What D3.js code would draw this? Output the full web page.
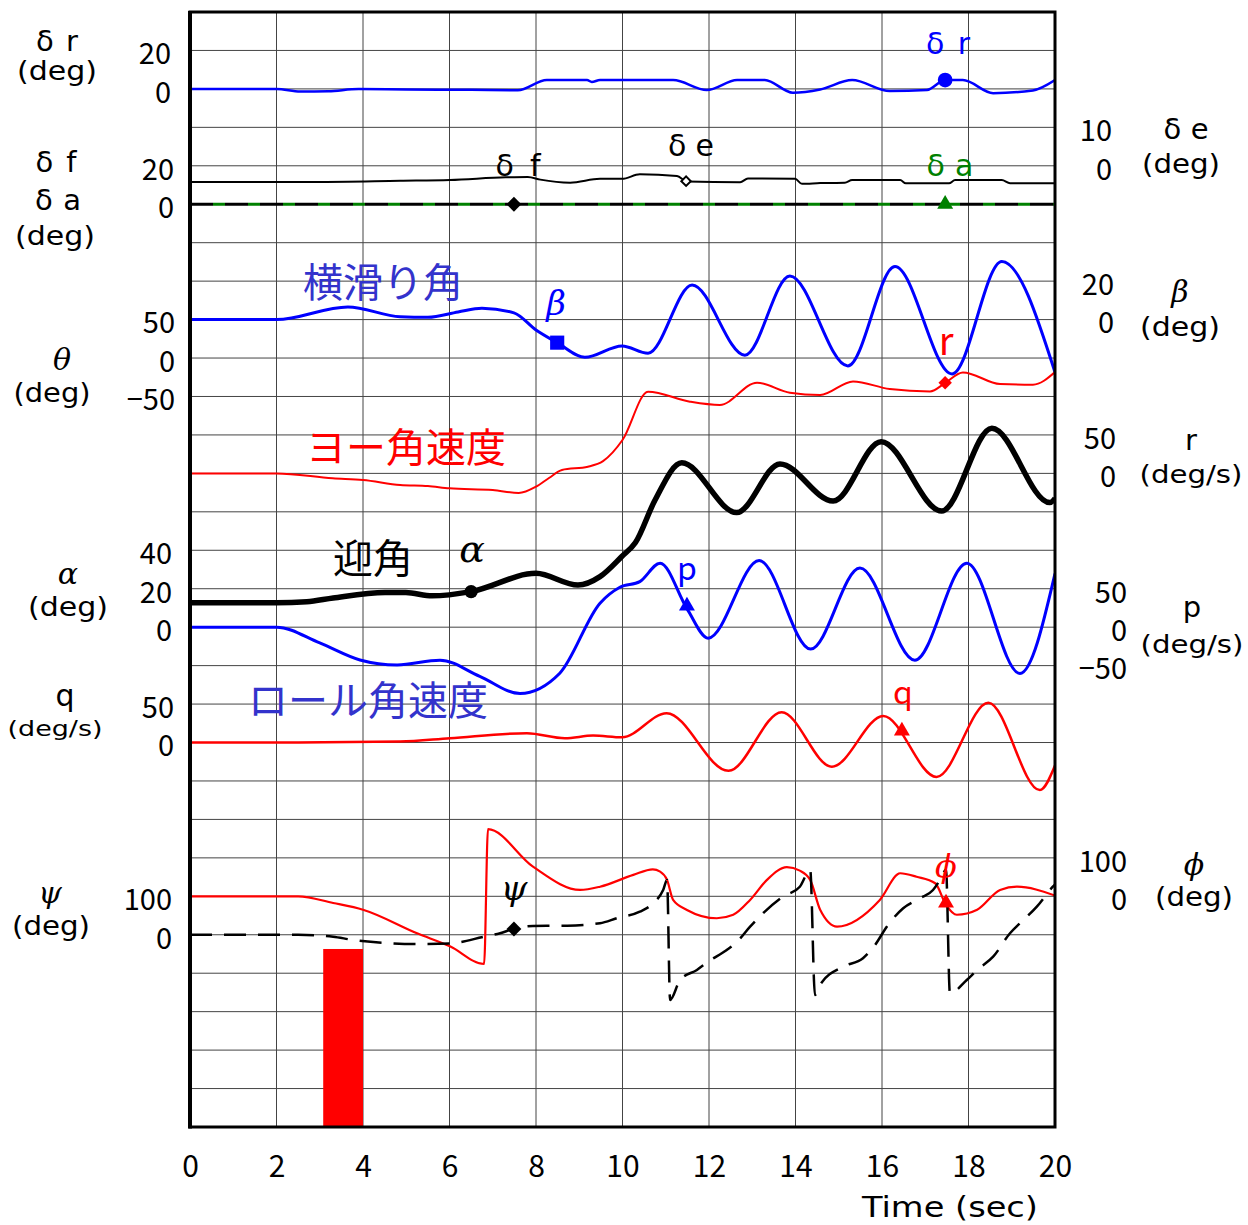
<!DOCTYPE html>
<html>
<head>
<meta charset="utf-8">
<script src="https://cdn.jsdelivr.net/npm/d3@7/dist/d3.min.js"></script>
<style>
  body { margin: 0; background: #fff; }
  text { font-family: "Noto Sans CJK JP", "Noto Sans", sans-serif; }
  .it { font-family: "DejaVu Serif", serif; font-style: italic; }
  .unit { font-family: "DejaVu Sans", sans-serif; }
</style>
</head>
<body>
<svg id="chart" width="1248" height="1225"></svg>
<script>
// time axis
const timeTicks = [0, 2, 4, 6, 8, 10, 12, 14, 16, 18, 20];

// control surfaces (deg) : [time, value]
const deltaR = [[0,0],[2,0],[2.55,-1.4],[3.2,-1.2],[3.9,-0.1],[5,-0.3],[6.5,-0.5],[7.58,-0.7],[8.25,4.6],[9.18,4.6],[9.29,3.6],[9.48,4.6],[11.17,4.6],[11.95,-0.6],[12.65,4.6],[13.29,4.6],[13.94,-2.0],[14.57,-0.3],[15.31,4.6],[16.18,-1.1],[17.04,-0.6],[17.46,4.6],[17.87,4.6],[18.57,-2.2],[19.49,-0.8],[20,4.6]];
const deltaE = [[0,-4.2],[2.9,-4.2],[4.86,-3.9],[6.01,-3.7],[7.3,-3.0],[7.81,-2.9],[8.1,-3.6],[8.79,-4.4],[9.48,-3.4],[9.99,-3.4],[10.4,-2.2],[11.26,-2.65],[11.49,-4.1],[12.72,-4.3],[12.9,-3.3],[13.99,-3.4],[14.15,-4.7],[14.57,-4.5],[15.14,-4.4],[15.31,-3.7],[16.42,-3.7],[16.55,-4.55],[17.55,-4.55],[17.69,-3.7],[18.77,-3.7],[18.96,-4.55],[20,-4.55]];
const deltaF = [[0,0],[20,0]];
const deltaA = [[0,0],[20,0]];

// sideslip beta (deg), yaw rate r (deg/s)
const beta = [[0,0],[2,0],[3.65,6.6],[4.86,1.5],[5.5,1.2],[6.2,4.0],[6.75,5.9],[7.49,3.5],[8.0,-5.4],[8.49,-12.0],[9.13,-19.6],[9.99,-13.7],[10.59,-17.5],[11.61,18.0],[12.83,-18.5],[13.87,22.7],[15.21,-24.1],[16.3,27.6],[17.62,-28.3],[18.77,30.2],[20,-27.4]];
const yawRate = [[0,0],[2,0],[3.3,-6.4],[4.0,-8.6],[4.86,-15],[5.5,-16.5],[6.0,-19.4],[7.0,-21.6],[7.6,-25.5],[8.0,-17.3],[8.3,-6],[8.6,4.4],[9.2,8.7],[9.55,16],[10.0,43.4],[10.59,106.2],[11.56,93.2],[12.25,88.9],[13.11,117.9],[13.87,104.9],[14.57,102],[15.33,119.6],[16.18,109.7],[17.11,106.6],[17.46,117.5],[17.87,131.3],[18.73,116.2],[19.49,115.3],[20,131.7]];

// angle of attack alpha (deg), roll rate p (deg/s), pitch rate q (deg/s)
const alpha = [[0,12.7],[2,12.7],[2.7,13.2],[3.31,15.2],[4.51,18.0],[4.99,18.0],[5.6,16.3],[6.5,18.5],[8.0,28.0],[8.97,21.9],[9.48,26.3],[9.99,36.9],[10.3,44],[10.75,66],[11.37,85.5],[12.64,59.6],[13.64,84.9],[14.87,65.6],[15.98,96.5],[17.38,60.4],[18.54,103.5],[19.88,64.8],[20,67]];
const rollRate = [[0,0],[2,0],[3.0,-20.5],[3.93,-42.6],[4.79,-49.2],[5.78,-42.9],[6.7,-64],[7.63,-86.3],[8.55,-59.9],[9.48,31.2],[9.94,51.9],[10.4,59.2],[10.87,83.2],[11.49,24.2],[11.98,-14.3],[13.16,86.6],[14.35,-28.5],[15.49,76.8],[16.76,-42.9],[17.96,83.2],[19.19,-60.2],[20,69.6]];
const pitchRate = [[0,0],[2.5,0],[4.86,1.2],[6.01,5.6],[7.79,12.1],[8.67,5.6],[9.32,9.0],[9.99,6.8],[11.02,38.1],[12.45,-36.8],[13.68,39.4],[14.84,-31.5],[16.03,34.6],[17.26,-44.7],[18.46,51.7],[19.65,-61.9],[20,-29.9]];

// bank phi (deg), heading psi (deg)
const phi = [[0,0],[2.5,0],[3.31,-17.4],[4.0,-35],[5.25,-96.3],[6.01,-130],[6.8,-176],[6.89,174.5],[7.93,77.2],[9.02,16.6],[9.48,25],[10.25,55.7],[10.7,70],[10.87,64.2],[11.03,42.7],[11.17,-9.4],[11.49,-35.4],[12.18,-57],[12.56,-48],[12.95,-9.4],[13.34,42.7],[13.8,75.7],[14.1,66.8],[14.34,42.7],[14.57,-35],[14.96,-78.8],[15.95,-9.4],[16.42,60],[16.8,51],[17.23,34],[17.48,-22],[17.73,-48],[18.2,-35],[18.73,16.6],[19.12,25],[20,2]];
const psi = [[0,0],[2.5,0],[3.31,-4.9],[3.77,-13.5],[5.25,-24],[6.01,-22.4],[6.8,-5],[7.17,4],[7.47,15],[7.93,23],[8.72,23.7],[9.48,30],[9.87,43],[10.4,60],[10.71,82],[10.94,116.5],[11.03,142.5],[11.1,-169.6],[11.33,-117.6],[11.72,-91.5],[11.98,-70],[12.41,-39.5],[12.65,-18],[12.95,21],[13.25,56],[13.71,99],[14.1,125],[14.34,168.5],[14.45,-156.6],[14.57,-130],[15.1,-83],[15.56,-61],[15.84,-26.5],[16.11,21],[16.49,69],[16.88,95],[17.18,116.5],[17.34,142.5],[17.48,168.5],[17.57,-152],[17.96,-117.6],[18.2,-91.5],[18.57,-57],[18.96,3.9],[19.19,30],[19.58,73],[19.95,125],[20,131]];

// red input pulse: time span (sec) and top on the psi scale (deg)
const pulseTime = [3.08, 4.0];
const pulseTop = [-37];

// tick labels for each scale
const ticksDr = [0, 20], ticksDf = [0, 20], ticksDe = [0, 10];
const ticksTheta = [-50, 0, 50], ticksBeta = [0, 20], ticksR = [0, 50];
const ticksAlpha = [0, 20, 40], ticksP = [-50, 0, 50], ticksQ = [0, 50];
const ticksPsi = [0, 100], ticksPhi = [0, 100];

// ---- layout ----
const plotLeft = 190, plotRight = 1055, plotTop = 12, plotBottom = 1127, nRows = 29;
const numFont = '"DejaVu Sans", sans-serif';
const svg = d3.select('#chart');

const x = d3.scaleLinear().domain([0, 20]).range([plotLeft, plotRight]);
const row = d3.scaleLinear().domain([0, nRows]).range([plotTop, plotBottom]);

// each trace has its own zero grid line and units per grid row
function rowScale(zeroRow, perRow) {
    return d3.scaleLinear().domain([0, perRow]).range([row(zeroRow), row(zeroRow - 1)]);
}
const yDr = rowScale(2, 20), yDf = rowScale(5, 20), yDe = rowScale(4, 10);
const yTheta = rowScale(9, 50), yBeta = rowScale(8, 20), yR = rowScale(12, 50);
const yAlpha = rowScale(16, 20), yP = rowScale(16, 50), yQ = rowScale(19, 50);
const yPsi = rowScale(24, 100), yPhi = rowScale(23, 100);

svg.append('defs').append('clipPath').attr('id', 'plotClip')
    .append('rect').attr('x', plotLeft).attr('y', plotTop)
    .attr('width', plotRight - plotLeft).attr('height', plotBottom - plotTop);

// grid
const grid = svg.append('g').attr('stroke', '#444').attr('stroke-width', 1);
grid.selectAll('line.h').data(d3.range(1, nRows)).join('line')
    .attr('x1', plotLeft).attr('x2', plotRight)
    .attr('y1', d => row(d)).attr('y2', d => row(d));
grid.selectAll('line.v').data(timeTicks.slice(1, -1)).join('line')
    .attr('x1', d => x(d)).attr('x2', d => x(d))
    .attr('y1', plotTop).attr('y2', plotBottom);

// input pulse
svg.append('rect')
    .attr('x', x(pulseTime[0])).attr('width', x(pulseTime[1]) - x(pulseTime[0]))
    .attr('y', yPsi(pulseTop[0])).attr('height', plotBottom - yPsi(pulseTop[0]))
    .attr('fill', '#ff0000');

// traces
const traces = [
    { data: deltaR, y: yDr, color: '#0000ff', width: 2.5 },
    { data: deltaE, y: yDe, color: '#000', width: 2 },
    { data: deltaF, y: yDf, color: '#000', width: 3, dash: '23,12' },
    { data: deltaA, y: yDf, color: '#008000', width: 3, dash: '12,23', offset: 12 },
    { data: beta, y: yBeta, color: '#0000ff', width: 3 },
    { data: yawRate, y: yR, color: '#ff0000', width: 2 },
    { data: alpha, y: yAlpha, color: '#000', width: 5.5 },
    { data: rollRate, y: yP, color: '#0000ff', width: 3 },
    { data: pitchRate, y: yQ, color: '#ff0000', width: 2.5 },
    { data: phi, y: yPhi, color: '#ff0000', width: 2.2 },
    { data: psi, y: yPsi, color: '#000', width: 2.5, dash: '22,12' }
];

const traceG = svg.append('g').attr('clip-path', 'url(#plotClip)');
traces.forEach(s => {
    const line = d3.line()
        .x(d => x(d[0]))
        .y(d => s.y(d[1]))
        .curve(d3.curveMonotoneX);
    traceG.append('path')
        .attr('d', line(s.data))
        .attr('fill', 'none')
        .attr('stroke', s.color)
        .attr('stroke-width', s.width)
        .attr('stroke-linejoin', 'round')
        .attr('stroke-dasharray', s.dash || null)
        .attr('stroke-dashoffset', s.offset || null);
});

// markers on the traces
const markers = [
    { t: 17.46, v: 4.6, y: yDr, type: d3.symbolCircle, size: 170, fill: '#0000ff' },
    { t: 7.49, v: 0, y: yDf, type: d3.symbolSquare, size: 110, fill: '#000', rot: 45 },
    { t: 11.47, v: -4.0, y: yDe, type: d3.symbolSquare, size: 45, fill: '#fff', stroke: '#000', rot: 45 },
    { t: 17.46, v: 0, y: yDf, type: d3.symbolTriangle, size: 110, fill: '#008000' },
    { t: 8.49, v: -12.0, y: yBeta, type: d3.symbolSquare, size: 200, fill: '#0000ff' },
    { t: 17.46, v: 117.9, y: yR, type: d3.symbolSquare, size: 90, fill: '#ff0000', rot: 45 },
    { t: 6.5, v: 18.5, y: yAlpha, type: d3.symbolCircle, size: 140, fill: '#000' },
    { t: 11.49, v: 27.6, y: yP, type: d3.symbolTriangle, size: 110, fill: '#0000ff' },
    { t: 16.46, v: 15.1, y: yQ, type: d3.symbolTriangle, size: 110, fill: '#ff0000' },
    { t: 17.48, v: -17.2, y: yPhi, type: d3.symbolTriangle, size: 110, fill: '#ff0000' },
    { t: 7.49, v: 15, y: yPsi, type: d3.symbolSquare, size: 110, fill: '#000', rot: 45 }
];
svg.append('g').selectAll('path').data(markers).join('path')
    .attr('d', d => d3.symbol().type(d.type).size(d.size)())
    .attr('transform', d => `translate(${x(d.t)},${d.y(d.v)}) rotate(${d.rot || 0})`)
    .attr('fill', d => d.fill)
    .attr('stroke', d => d.stroke || null)
    .attr('stroke-width', d => d.stroke ? 2 : null);

// frame
svg.append('rect').attr('x', plotLeft).attr('y', plotTop)
    .attr('width', plotRight - plotLeft).attr('height', plotBottom - plotTop)
    .attr('fill', 'none').attr('stroke', '#000').attr('stroke-width', 3);
svg.append('line').attr('x1', plotLeft).attr('x2', plotLeft).attr('y1', plotTop - 1).attr('y2', plotBottom + 1.5)
    .attr('stroke', '#000').attr('stroke-width', 4);

// time axis
const xAxis = svg.append('g').attr('transform', `translate(0,${plotBottom})`)
    .call(d3.axisBottom(x).tickValues(timeTicks).tickSize(0).tickPadding(29).tickFormat(d3.format('d')));
xAxis.select('.domain').remove();
xAxis.attr('font-size', 30).attr('font-family', numFont);

// value axes: numbers only, right-aligned against an edge
function valueAxis(scale, ticks, edge, side) {
    const axis = side === 'left' ? d3.axisLeft(scale) : d3.axisRight(scale);
    const g = svg.append('g').attr('transform', `translate(${edge},4)`)
        .call(axis.tickValues(ticks).tickSize(0).tickPadding(0).tickFormat(d3.format('d')));
    g.select('.domain').remove();
    g.attr('font-size', 29).attr('font-family', numFont);
    g.selectAll('text').attr('text-anchor', 'end').attr('x', 0);
}
valueAxis(yDr, ticksDr, 171, 'left');
valueAxis(yDf, ticksDf, 174, 'left');
valueAxis(yTheta, ticksTheta, 175, 'left');
valueAxis(yAlpha, ticksAlpha, 172, 'left');
valueAxis(yQ, ticksQ, 174, 'left');
valueAxis(yPsi, ticksPsi, 172, 'left');
valueAxis(yDe, ticksDe, 1112, 'right');
valueAxis(yBeta, ticksBeta, 1114, 'right');
valueAxis(yR, ticksR, 1116, 'right');
valueAxis(yP, ticksP, 1127, 'right');
valueAxis(yPhi, ticksPhi, 1127, 'right');

// axis titles and trace labels (len = measured width in the reference)
const labels = [
    // left titles
    { s: 'δ r', x: 57, y: 41, size: 29, len: 42, unit: true },
    { s: '(deg)', x: 57, y: 71, size: 26, len: 80, unit: true, fit: true },
    { s: 'δ f', x: 56, y: 162, size: 29, len: 41, unit: true },
    { s: 'δ a', x: 58, y: 200, size: 29, len: 46, unit: true },
    { s: '(deg)', x: 55, y: 236, size: 26, len: 80, unit: true, fit: true },
    { s: 'θ', x: 62, y: 359, size: 30, it: true },
    { s: '(deg)', x: 52, y: 393, size: 26, len: 77, unit: true, fit: true },
    { s: 'α', x: 68, y: 573, size: 30, it: true },
    { s: '(deg)', x: 68, y: 607, size: 26, len: 80, unit: true, fit: true },
    { s: 'q', x: 65, y: 695, size: 30, unit: true },
    { s: '(deg/s)', x: 55, y: 728, size: 22, len: 95, unit: true, fit: true },
    { s: 'ψ', x: 50, y: 892, size: 30, it: true },
    { s: '(deg)', x: 51, y: 926, size: 26, len: 78, unit: true, fit: true },
    // right titles
    { s: 'δ e', x: 1186, y: 129, size: 29, len: 45, unit: true },
    { s: '(deg)', x: 1181, y: 164, size: 26, len: 78, unit: true, fit: true },
    { s: 'β', x: 1180, y: 291, size: 30, it: true },
    { s: '(deg)', x: 1180, y: 327, size: 26, len: 80, unit: true, fit: true },
    { s: 'r', x: 1191, y: 440, size: 29, unit: true },
    { s: '(deg/s)', x: 1191, y: 475, size: 24, len: 103, unit: true, fit: true },
    { s: 'p', x: 1192, y: 607, size: 29, unit: true },
    { s: '(deg/s)', x: 1192, y: 645, size: 24, len: 103, unit: true, fit: true },
    { s: 'ϕ', x: 1194, y: 864, size: 30, it: true },
    { s: '(deg)', x: 1194, y: 897, size: 26, len: 78, unit: true, fit: true },
    { s: 'Time (sec)', x: 950, y: 1207, size: 28, len: 176, unit: true, fit: true },
    // trace labels
    { s: 'δ r', x: 948, y: 43, size: 30, len: 44, unit: true, fill: '#0000ff' },
    { s: 'δ f', x: 518, y: 165, size: 30, len: 45, unit: true },
    { s: 'δ e', x: 691, y: 145, size: 30, len: 46, unit: true },
    { s: 'δ a', x: 950, y: 165, size: 30, len: 47, unit: true, fill: '#008000' },
    { s: 'β', x: 556, y: 303, size: 34, it: true, fill: '#0000ff' },
    { s: 'r', x: 946, y: 338, size: 38, fill: '#ff0000' },
    { s: 'α', x: 472, y: 549, size: 38, it: true },
    { s: 'p', x: 687, y: 566, size: 32, fill: '#0000ff' },
    { s: 'q', x: 903, y: 690, size: 32, fill: '#ff0000' },
    { s: 'ϕ', x: 946, y: 866, size: 32, it: true, fill: '#ff0000' },
    { s: 'ψ', x: 514, y: 888, size: 34, it: true },
    { s: '横滑り角', x: 383, y: 280, size: 40, fill: '#3333cc' },
    { s: 'ヨー角速度', x: 406, y: 445, size: 40, fill: '#ff0000' },
    { s: '迎角', x: 373, y: 556, size: 40 },
    { s: 'ロール角速度', x: 368, y: 698, size: 40, fill: '#3333cc' }
];
svg.append('g').selectAll('text').data(labels).join('text')
    .attr('class', d => d.it ? 'it' : (d.unit ? 'unit' : null))
    .attr('x', d => d.x).attr('y', d => d.y)
    .attr('text-anchor', 'middle')
    .attr('dominant-baseline', 'central')
    .attr('font-size', d => d.size)
    .attr('textLength', d => d.len || null)
    .attr('lengthAdjust', d => d.len ? (d.fit ? 'spacingAndGlyphs' : 'spacing') : null)
    .attr('fill', d => d.fill || '#000')
    .text(d => d.s);
</script>
</body>
</html>
